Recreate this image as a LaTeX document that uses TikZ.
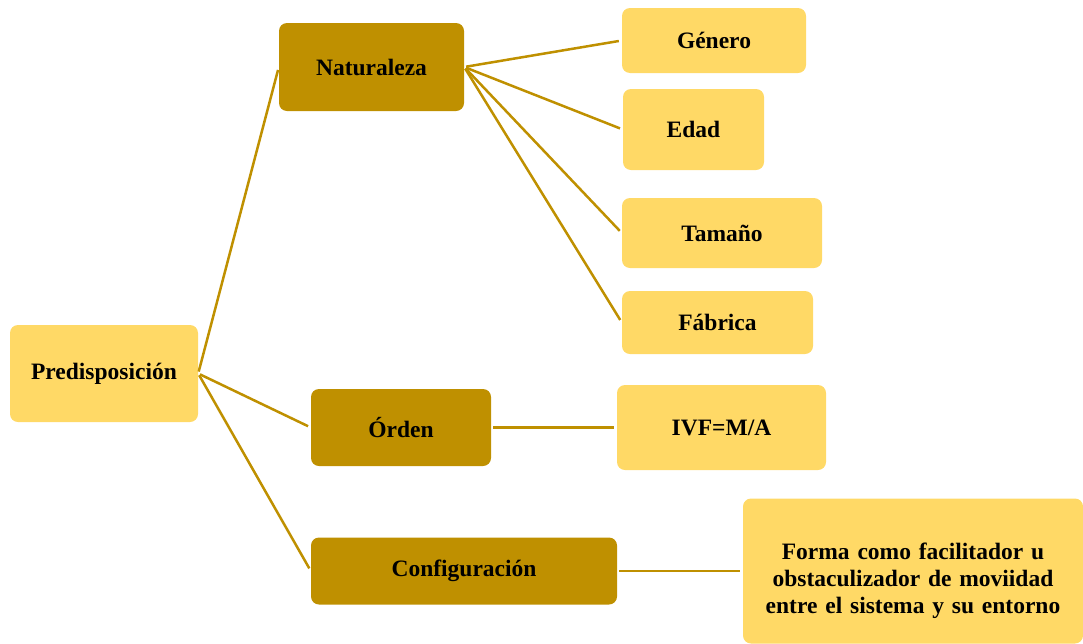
\documentclass[tikz,border=0pt]{standalone}
\usepackage{fontspec}
\setmainfont{Liberation Serif}
\usepackage{tikz}
\usetikzlibrary{positioning}
\definecolor{goldlight}{HTML}{FFD966}
\definecolor{golddark}{HTML}{BF9000}
\tikzstyle{light} = [rectangle, rounded corners=8pt, fill=goldlight, draw=none,
                     text centered, font=\fontsize{23.5}{27}\selectfont\bfseries]
\tikzstyle{dark}  = [rectangle, rounded corners=8pt, fill=golddark, draw=none,
                     text centered, font=\fontsize{23.5}{27}\selectfont\bfseries]
\tikzstyle{link}  = [line width=2.5pt, draw=golddark, shorten >=3pt, shorten <=2pt]

\begin{document}
\begin{tikzpicture}[x=1pt, y=-1pt]
		\useasboundingbox (0,0) rectangle (1083,643);
		\node[light, minimum width=188pt, minimum height=97pt] (pre) at (104,373.5) {Predisposición};
		\node[dark, minimum width=185pt, minimum height=88pt] (nat) at (371.5,67) {Naturaleza};
		\node[dark, minimum width=180pt, minimum height=77pt] (ord) at (401,427.5) {Órden};
		\node[dark, minimum width=306pt, minimum height=67pt] (conf) at (464,571) {Configuración};
		\node[light, minimum width=184pt, minimum height=65pt] (gen) at (714,40.5) {Género};
		\node[light, minimum width=141pt, minimum height=81pt] (edad) at (693.5,129.5) {Edad};
		\node[light, minimum width=200pt, minimum height=70pt] (tam) at (722,233) {Tamaño};
		\node[light, minimum width=191pt, minimum height=63pt] (fab) at (717.5,322.5) {Fábrica};
		\node[light, minimum width=209pt, minimum height=85pt] (ivf) at (721.5,427.5) {IVF=M/A};
		\node[light, minimum width=340pt, minimum height=145pt, text width=310pt, align=center] (forma) at (913,571)
			{\rule{0pt}{36pt}Forma como facilitador u obstaculizador de moviidad entre el sistema y su entorno};
		\draw[link] (pre.east) -- (nat.west);
		\draw[link] (pre.east) -- (ord.west);
		\draw[link] (pre.east) -- (conf.west);
		\draw[link] (nat.east) -- (gen.west);
		\draw[link] (nat.east) -- (edad.west);
		\draw[link] (nat.east) -- (tam.west);
		\draw[link] (nat.east) -- (fab.west);
		\draw[link] (ord.east) -- (ivf.west);
		\draw[link] (conf.east) -- (forma.west);
	\end{tikzpicture}
\end{document}
